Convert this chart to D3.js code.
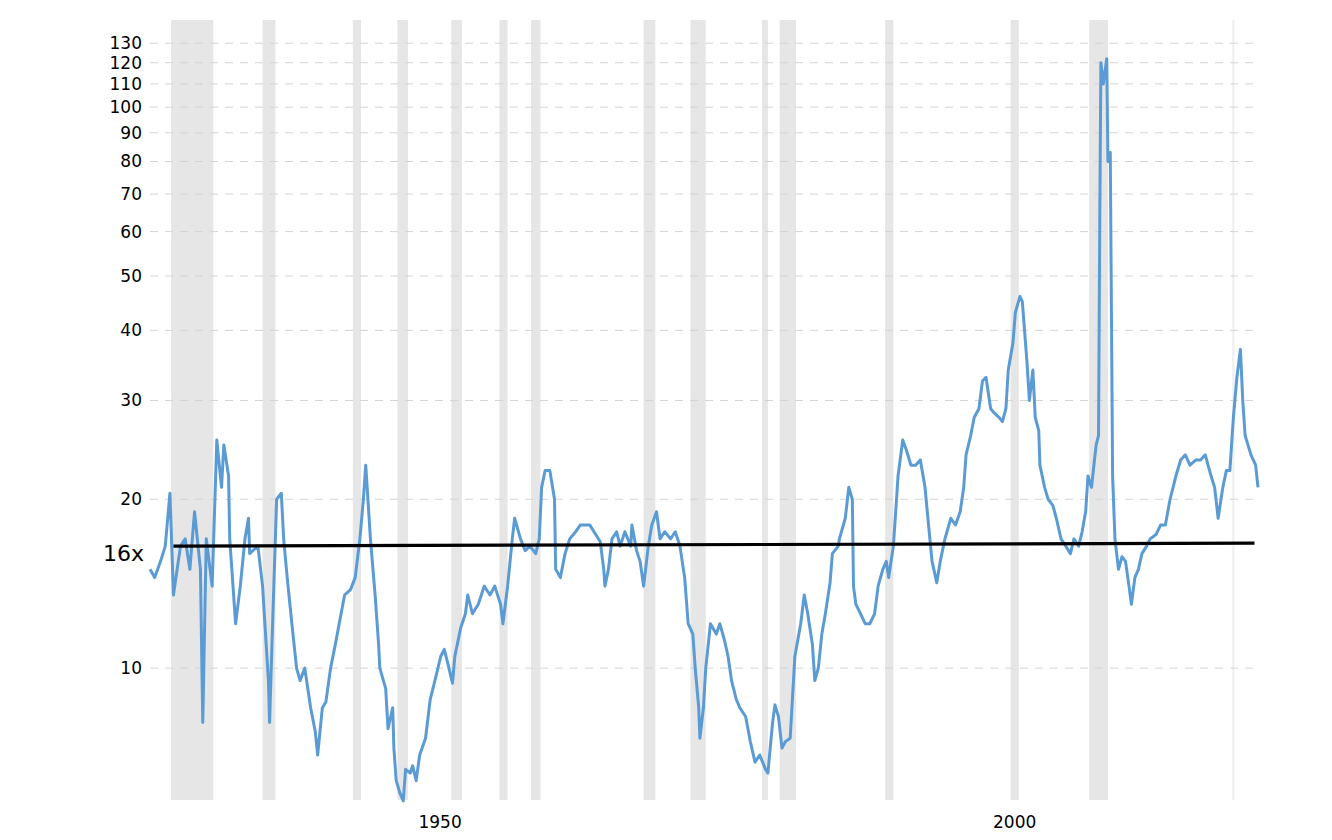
<!DOCTYPE html>
<html>
<head>
<meta charset="utf-8">
<script src="https://cdn.jsdelivr.net/npm/d3@7"></script>
<style>
body { margin: 0; background: #fff; }
text { font-family: "DejaVu Sans", sans-serif; }
</style>
</head>
<body>
<svg id="chart" width="1332" height="840"></svg>
<script>
// PE ratio by decimal year
const years = [1927.8,1928.2,1928.7,1929.1,1929.5,1929.8,1930.4,1930.8,1931.2,1931.6,1932.1,1932.3,1932.6,1933.1,1933.5,1933.9,1934.1,1934.5,1934.6,1935.1,1935.5,1935.9,1936.2,1936.3,1937.0,1937.4,1937.9,1938.0,1938.2,1938.6,1939.0,1939.2,1939.5,1939.9,1940.3,1940.6,1941.0,1941.5,1941.9,1942.1,1942.5,1942.8,1943.2,1943.6,1944.0,1944.4,1944.9,1945.3,1945.7,1946.0,1946.2,1946.6,1947.0,1947.3,1947.4,1947.9,1948.1,1948.5,1948.6,1948.8,1949.1,1949.4,1949.6,1950.0,1950.2,1950.5,1950.8,1951.3,1951.7,1952.1,1952.6,1952.9,1953.2,1953.6,1953.8,1954.3,1954.7,1954.9,1955.3,1955.8,1956.3,1956.8,1957.2,1957.7,1957.9,1958.3,1958.7,1958.9,1959.4,1959.8,1960.2,1960.7,1961.0,1961.2,1961.5,1961.9,1962.3,1962.4,1962.8,1963.2,1963.6,1964.1,1964.5,1965.3,1965.9,1966.2,1966.5,1966.6,1966.9,1967.2,1967.6,1967.9,1968.3,1968.8,1968.9,1969.3,1969.6,1969.9,1970.3,1970.6,1971.0,1971.3,1971.7,1972.2,1972.6,1973.0,1973.4,1973.7,1974.1,1974.3,1974.6,1974.7,1975.0,1975.2,1975.6,1976.1,1976.4,1976.8,1977.1,1977.4,1977.8,1978.1,1978.6,1979.0,1979.4,1979.8,1980.3,1980.5,1980.9,1981.1,1981.4,1981.7,1982.0,1982.4,1982.8,1983.3,1983.6,1983.9,1984.3,1984.5,1984.8,1985.1,1985.4,1985.8,1986.0,1986.5,1986.6,1987.1,1987.4,1987.7,1987.8,1988.0,1988.4,1988.8,1989.2,1989.6,1989.9,1990.3,1990.6,1990.8,1990.9,1991.2,1991.4,1991.6,1992.0,1992.3,1992.7,1993.1,1993.5,1993.9,1994.2,1994.5,1994.9,1995.2,1995.6,1996.1,1996.5,1996.9,1997.2,1997.4,1997.8,1998.1,1998.5,1998.8,1999.1,1999.5,1999.8,2000.2,2000.5,2000.8,2001.0,2001.4,2001.6,2002.0,2002.2,2002.6,2002.8,2003.1,2003.3,2003.6,2003.7,2004.1,2004.4,2004.8,2005.1,2005.5,2005.9,2006.3,2006.6,2007.0,2007.3,2007.6,2007.8,2008.1,2008.4,2008.5,2008.7,2008.8,2008.9,2009.1,2009.4,2009.5,2009.7,2009.9,2010.1,2010.4,2010.7,2011.0,2011.3,2011.5,2011.8,2012.1,2012.4,2012.8,2013.1,2013.6,2014.0,2014.4,2014.8,2015.3,2015.7,2016.1,2016.5,2017.0,2017.4,2017.8,2018.3,2018.6,2018.9,2019.3,2019.6,2019.9,2020.2,2020.5,2020.8,2021.0,2021.2,2021.7,2022.1,2022.3];
const pe = [15,14.5,15.5,16.5,20.5,13.5,16.5,17,15,19,15,8,17,14,25.5,21,25,22,17,12,14,17,18.5,16,16.5,14,9.5,8,11,20,20.5,17,14.5,12,10,9.5,10,8.5,7.7,7.0,8.5,8.7,10,11,12.2,13.5,13.8,14.5,17,20,23,17,13.5,11,10,9.2,7.8,8.5,7.2,6.3,6.0,5.8,6.6,6.5,6.7,6.3,7.0,7.5,8.8,9.5,10.5,10.8,10.2,9.4,10.5,11.8,12.5,13.5,12.5,13,14,13.5,14,13,12,14,17,18.5,17,16.2,16.5,16,17,21,22.5,22.5,20,15,14.5,16,17,17.5,18,18,17.2,16.8,15,14,15,17,17.5,16.5,17.5,16.5,18,16.2,15.5,14,16.5,18,19,17,17.5,17,17.5,16.5,14.5,12,11.5,10,8.5,7.5,8.5,10,12,11.5,12,11.2,10.5,9.5,8.8,8.5,8.2,7.4,6.8,7.0,6.6,6.5,8.0,8.6,8.2,7.2,7.4,7.5,10.5,12,13.5,12.5,11,9.5,10,11.5,12.5,14.2,16,16.5,17,18.5,21,20,14,13,12.5,12,12,12.5,14,15,15.5,14.5,15,16.5,19,22,25.5,24.5,23,23,23.5,21,18,15.5,14.2,15.5,17,18.5,18,19,21,24,26,28,29,32.5,33,29,28.5,28,27.5,29,34,38,43,46,45,35,30,34,28,26.5,23,21,20,19.5,18.5,17,16.5,16,17,16.5,17.5,19,22,21,24,25,26,60,120,110,122,80,83,22,17,15,15.8,15.5,14,13,14.5,15,16,16.5,17,17.3,18,18,20,22,23.5,24,23,23.5,23.5,24,22,21,18.5,21,22.5,22.5,28,33,37,30,26,24,23,21];

// recessions [start, end]
const recessions = [[1929.6,1933.2],[1937.4,1938.5],[1945.1,1945.8],[1948.9,1949.8],[1953.5,1954.4],[1957.6,1958.3],[1960.3,1961.1],[1969.9,1970.9],[1973.9,1975.2],[1980.0,1980.5],[1981.5,1982.9],[1990.5,1991.2],[2001.2,2001.9],[2007.9,2009.5],[2020.1,2020.3]];

// long-run average
const avgYears = [1929.8, 2022.0];
const avgValues = [16.5, 16.7];

const yTicks = [10,20,30,40,50,60,70,80,90,100,110,120,130];
const xTickYears = [1952.5, 2001.5];
const xTickLabels = ["1950", "2000"];

const svg = d3.select("#chart");
const x = d3.scaleLinear().domain([1927.8, 2022.3]).range([150, 1258]);
const y = d3.scaleLog().domain([5.82, 143]).range([800, 20]);

// recession bands
svg.append("g").selectAll("rect").data(recessions).enter()
	.append("rect")
	.attr("x", d => x(d[0]))
	.attr("width", d => x(d[1]) - x(d[0]))
	.attr("y", 20).attr("height", 780)
	.attr("fill", (d, i) => i === recessions.length - 1 ? "#f0f0f0" : "#e6e6e6");

// grid
svg.append("g").selectAll("line").data(yTicks).enter()
	.append("line")
	.attr("x1", 150).attr("x2", 1256)
	.attr("y1", d => y(d)).attr("y2", d => y(d))
	.attr("stroke", "#d4d4d4").attr("stroke-dasharray", "8,7");

// y axis
const yAxis = d3.axisLeft(y).tickValues(yTicks).tickFormat(d3.format("d")).tickSize(0).tickPadding(8);
svg.append("g").attr("transform", "translate(150,0)").call(yAxis)
	.call(g => g.select(".domain").remove())
	.selectAll("text").attr("font-size", 17).attr("fill", "#000");

// x axis
const xAxis = d3.axisBottom(x).tickValues(xTickYears).tickFormat((d, i) => xTickLabels[i]).tickSize(0).tickPadding(8);
svg.append("g").attr("transform", "translate(0,808)").call(xAxis)
	.call(g => g.select(".domain").remove())
	.selectAll("text").attr("font-size", 17).attr("fill", "#000");

// series
const line = d3.line().x((d, i) => x(years[i])).y(d => y(d));
svg.append("path").datum(pe)
	.attr("d", line)
	.attr("fill", "none")
	.attr("stroke", "#5b9bd5")
	.attr("stroke-width", 3)
	.attr("stroke-linejoin", "round");

// average line
const avgLine = d3.line().x((d, i) => x(avgYears[i])).y(d => y(d));
svg.append("path").datum(avgValues)
	.attr("d", avgLine)
	.attr("fill", "none")
	.attr("stroke", "#000")
	.attr("stroke-width", 3.2);

svg.append("text")
	.attr("x", 144).attr("y", y(avgValues[0]) + 15)
	.attr("text-anchor", "end")
	.attr("font-size", 22)
	.text("16x");
</script>
</body>
</html>
